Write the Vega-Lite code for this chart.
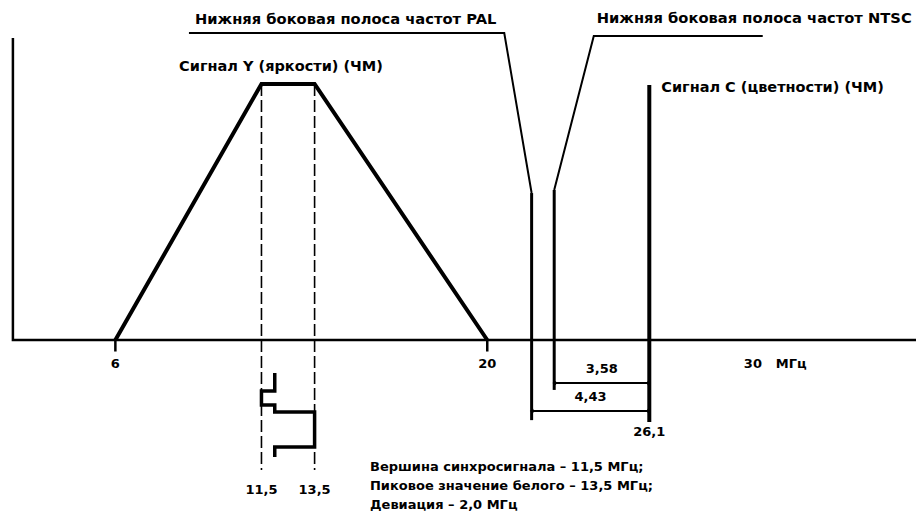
{
  "$schema": "https://vega.github.io/schema/vega-lite/v6.json",
  "width": 921,
  "height": 521,
  "autosize": {"type": "fit", "contains": "padding"},
  "padding": 0,
  "background": "white",
  "config": {"view": {"stroke": null}},
  "datasets": {
    "paths": [
      {"id": "axis", "grp": "axis", "ord": 1, "f": 2.143, "a": 118},
      {"id": "axis", "grp": "axis", "ord": 2, "f": 2.143, "a": 0},
      {"id": "axis", "grp": "axis", "ord": 3, "f": 36.14, "a": 0},
      {"id": "t6", "grp": "axis", "ord": 1, "f": 6, "a": 0},
      {"id": "t6", "grp": "axis", "ord": 2, "f": 6, "a": -4.5},
      {"id": "t20", "grp": "axis", "ord": 1, "f": 20, "a": 0},
      {"id": "t20", "grp": "axis", "ord": 2, "f": 20, "a": -4.5},
      {"id": "trap", "grp": "trap", "ord": 1, "f": 6, "a": 0},
      {"id": "trap", "grp": "trap", "ord": 2, "f": 11.5, "a": 100},
      {"id": "trap", "grp": "trap", "ord": 3, "f": 13.5, "a": 100},
      {"id": "trap", "grp": "trap", "ord": 4, "f": 20, "a": 0},
      {"id": "pal", "grp": "carrier", "ord": 1, "f": 21.67, "a": 57.4},
      {"id": "pal", "grp": "carrier", "ord": 2, "f": 21.67, "a": -31.3},
      {"id": "ntsc", "grp": "carrier", "ord": 1, "f": 22.52, "a": 58.6},
      {"id": "ntsc", "grp": "carrier", "ord": 2, "f": 22.52, "a": -19.5},
      {"id": "chroma", "grp": "chroma", "ord": 1, "f": 26.1, "a": 99.6},
      {"id": "chroma", "grp": "chroma", "ord": 2, "f": 26.1, "a": -32.0},
      {"id": "palc", "grp": "thin", "ord": 1, "f": 21.67, "a": 57.4},
      {"id": "palc", "grp": "thin", "ord": 2, "f": 20.64, "a": 119.9},
      {"id": "palc", "grp": "thin", "ord": 3, "f": 8.77, "a": 119.9},
      {"id": "ntscc", "grp": "thin", "ord": 1, "f": 22.52, "a": 58.6},
      {"id": "ntscc", "grp": "thin", "ord": 2, "f": 24.01, "a": 118.75},
      {"id": "ntscc", "grp": "thin", "ord": 3, "f": 30.37, "a": 118.75},
      {"id": "d358", "grp": "thin", "ord": 1, "f": 22.52, "a": -16.8},
      {"id": "d358", "grp": "thin", "ord": 2, "f": 26.1, "a": -16.8},
      {"id": "d443", "grp": "thin", "ord": 1, "f": 21.67, "a": -27.7},
      {"id": "d443", "grp": "thin", "ord": 2, "f": 26.1, "a": -27.7},
      {"id": "y115", "grp": "dashed", "ord": 1, "f": 11.5, "a": 100},
      {"id": "y115", "grp": "dashed", "ord": 2, "f": 11.5, "a": -50.8},
      {"id": "y135", "grp": "dashed", "ord": 1, "f": 13.5, "a": 100},
      {"id": "y135", "grp": "dashed", "ord": 2, "f": 13.5, "a": -50.8},
      {"id": "sync", "grp": "sync", "ord": 1, "f": 12.0, "a": -12.9},
      {"id": "sync", "grp": "sync", "ord": 2, "f": 12.0, "a": -19.9},
      {"id": "sync", "grp": "sync", "ord": 3, "f": 11.5, "a": -19.9},
      {"id": "sync", "grp": "sync", "ord": 4, "f": 11.5, "a": -25.4},
      {"id": "sync", "grp": "sync", "ord": 5, "f": 12.0, "a": -25.4},
      {"id": "sync", "grp": "sync", "ord": 6, "f": 12.0, "a": -28.1},
      {"id": "sync", "grp": "sync", "ord": 7, "f": 13.5, "a": -28.1},
      {"id": "sync", "grp": "sync", "ord": 8, "f": 13.5, "a": -41.8},
      {"id": "sync", "grp": "sync", "ord": 9, "f": 12.0, "a": -41.8},
      {"id": "sync", "grp": "sync", "ord": 10, "f": 12.0, "a": -45.7}
    ],
    "arrows": [
      {"f": 22.52, "a": -16.8, "end": "left"},
      {"f": 26.1, "a": -16.8, "end": "right"},
      {"f": 21.67, "a": -27.7, "end": "left"},
      {"f": 26.1, "a": -27.7, "end": "right"}
    ],
    "callouts": [
      {"txt": "Нижняя боковая полоса частот PAL", "f": 14.67, "a": 125.0},
      {"txt": "Нижняя боковая полоса частот NTSC", "f": 30.05, "a": 125.4}
    ],
    "ticks": [
      {"txt": "6", "f": 6, "a": -9.4},
      {"txt": "20", "f": 20, "a": -9.4},
      {"txt": "30", "f": 30, "a": -9.4},
      {"txt": "11,5", "f": 11.5, "a": -58.6},
      {"txt": "13,5", "f": 13.5, "a": -58.6},
      {"txt": "3,58", "f": 24.31, "a": -11.3},
      {"txt": "4,43", "f": 23.885, "a": -22.3},
      {"txt": "26,1", "f": 26.1, "a": -35.9}
    ],
    "signals": [
      {"txt": "Сигнал Y (яркости) (ЧМ)", "f": 8.4, "a": 106.6},
      {"txt": "Сигнал C (цветности) (ЧМ)", "f": 26.55, "a": 98.4}
    ],
    "notes": [
      {"txt": "МГц", "f": 30.86, "a": -9.4},
      {"txt": "Вершина синхросигнала – 11,5 МГц;", "f": 15.585, "a": -49.6},
      {"txt": "Пиковое значение белого – 13,5 МГц;", "f": 15.585, "a": -57.0},
      {"txt": "Девиация – 2,0 МГц", "f": 15.585, "a": -64.5}
    ]
  },
  "encoding": {
    "x": {"field": "f", "type": "quantitative", "scale": {"domain": [1.657, 36.14], "nice": false, "zero": false}, "axis": null},
    "y": {"field": "a", "type": "quantitative", "scale": {"domain": [-70.7, 132.8], "nice": false, "zero": false}, "axis": null}
  },
  "layer": [
    {
      "data": {"name": "paths"},
      "transform": [{"filter": "datum.grp === 'axis'"}],
      "mark": {"type": "line", "color": "black", "strokeWidth": 2.5},
      "encoding": {"detail": {"field": "id"}, "order": {"field": "ord"}}
    },
    {
      "data": {"name": "paths"},
      "transform": [{"filter": "datum.grp === 'trap'"}],
      "mark": {"type": "line", "color": "black", "strokeWidth": 4, "strokeJoin": "miter"},
      "encoding": {"detail": {"field": "id"}, "order": {"field": "ord"}}
    },
    {
      "data": {"name": "paths"},
      "transform": [{"filter": "datum.grp === 'carrier'"}],
      "mark": {"type": "line", "color": "black", "strokeWidth": 3},
      "encoding": {"detail": {"field": "id"}, "order": {"field": "ord"}}
    },
    {
      "data": {"name": "paths"},
      "transform": [{"filter": "datum.grp === 'chroma'"}],
      "mark": {"type": "line", "color": "black", "strokeWidth": 4},
      "encoding": {"detail": {"field": "id"}, "order": {"field": "ord"}}
    },
    {
      "data": {"name": "paths"},
      "transform": [{"filter": "datum.grp === 'thin'"}],
      "mark": {"type": "line", "color": "black", "strokeWidth": 2},
      "encoding": {"detail": {"field": "id"}, "order": {"field": "ord"}}
    },
    {
      "data": {"name": "paths"},
      "transform": [{"filter": "datum.grp === 'dashed'"}],
      "mark": {"type": "line", "color": "black", "strokeWidth": 1.6, "strokeDash": [12, 4]},
      "encoding": {"detail": {"field": "id"}, "order": {"field": "ord"}}
    },
    {
      "data": {"name": "paths"},
      "transform": [{"filter": "datum.grp === 'sync'"}],
      "mark": {"type": "line", "color": "black", "strokeWidth": 3.5, "strokeJoin": "miter"},
      "encoding": {"detail": {"field": "id"}, "order": {"field": "ord"}}
    },
    {
      "data": {"name": "arrows"},
      "mark": {"type": "point", "filled": true, "color": "black", "size": 18, "opacity": 1},
      "encoding": {
        "shape": {"field": "end", "type": "nominal", "scale": {"domain": ["left", "right"], "range": ["triangle-left", "triangle-right"]}, "legend": null}
      }
    },
    {
      "data": {"name": "callouts"},
      "mark": {"type": "text", "align": "center", "baseline": "middle", "font": "DejaVu Sans", "fontWeight": "bold", "fontSize": 14.7, "color": "black"},
      "encoding": {"text": {"field": "txt"}}
    },
    {
      "data": {"name": "ticks"},
      "mark": {"type": "text", "align": "center", "baseline": "middle", "font": "DejaVu Sans", "fontWeight": "bold", "fontSize": 13, "color": "black"},
      "encoding": {"text": {"field": "txt"}}
    },
    {
      "data": {"name": "signals"},
      "mark": {"type": "text", "align": "left", "baseline": "middle", "font": "DejaVu Sans", "fontWeight": "bold", "fontSize": 14.5, "color": "black"},
      "encoding": {"text": {"field": "txt"}}
    },
    {
      "data": {"name": "notes"},
      "mark": {"type": "text", "align": "left", "baseline": "middle", "font": "DejaVu Sans", "fontWeight": "bold", "fontSize": 13, "color": "black"},
      "encoding": {"text": {"field": "txt"}}
    }
  ]
}
